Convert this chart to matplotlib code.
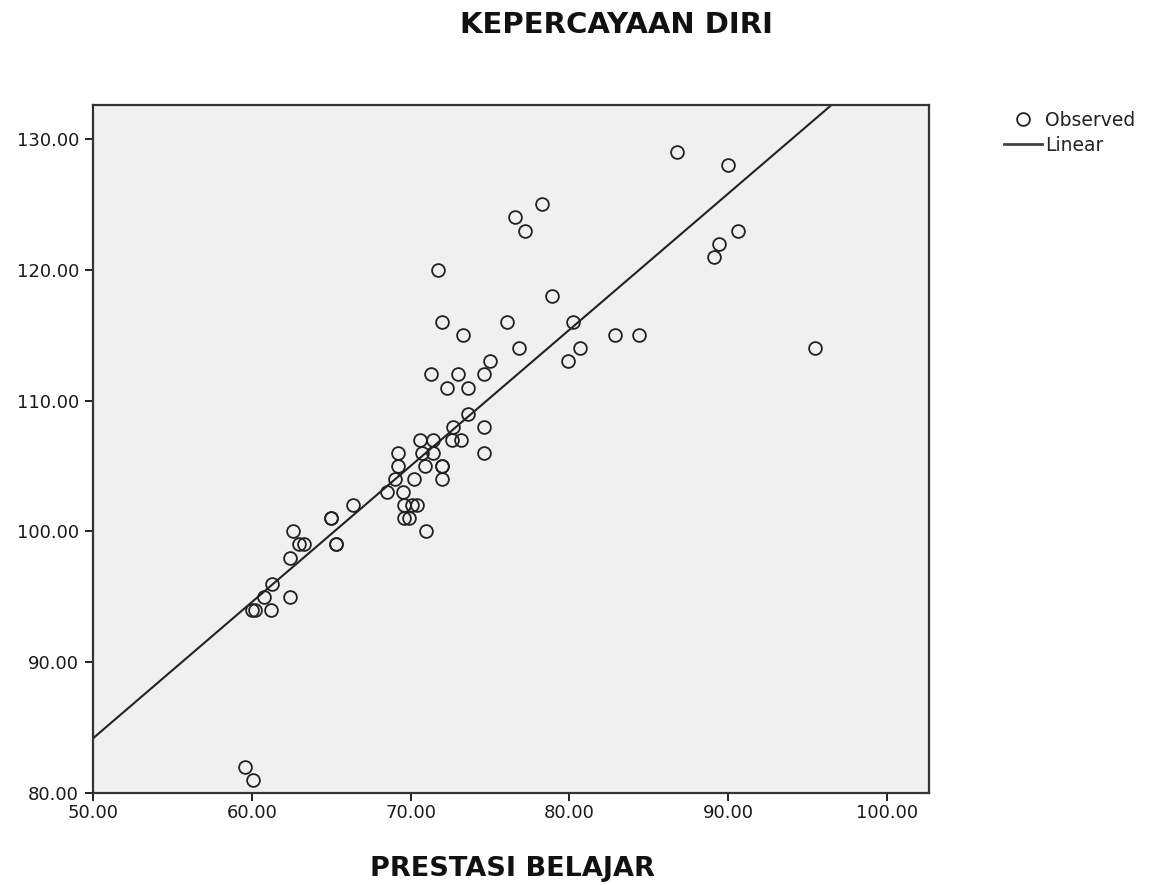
import numpy as np
import matplotlib
matplotlib.use("Agg")
import matplotlib.pyplot as plt
from matplotlib.lines import Line2D

plt.rcParams['font.family'] = ['DejaVu Sans']

title = "KEPERCAYAAN DIRI"
x_label = "PRESTASI BELAJAR"
legend_labels = ["Observed", "Linear"]

prestasi = [59.6, 60.1, 60.0, 60.2, 61.2, 60.8, 61.3, 62.4, 62.4, 62.6,
            63.0, 63.3, 65.0, 65.0, 65.3, 65.3, 66.4, 68.5, 69.0, 69.2,
            69.2, 69.5, 69.6, 69.9, 69.6, 70.1, 70.4, 70.2, 70.6, 70.7,
            70.9, 71.0, 71.4, 71.4, 72.0, 72.0, 72.0, 72.6, 73.2, 72.7,
            73.6, 74.6, 74.6, 71.3, 73.0, 74.6, 75.0, 72.3, 73.6, 72.0,
            73.3, 71.7, 76.1, 76.8, 76.6, 77.2, 78.3, 78.9, 80.2, 80.7,
            79.9, 82.9, 84.4, 86.8, 90.0, 90.6, 89.4, 89.1, 95.5]
kepercayaan = [82, 81, 94, 94, 94, 95, 96, 95, 98, 100,
               99, 99, 101, 101, 99, 99, 102, 103, 104, 105,
               106, 103, 101, 101, 102, 102, 102, 104, 107, 106,
               105, 100, 107, 106, 105, 105, 104, 107, 107, 108,
               109, 108, 106, 112, 112, 112, 113, 111, 111, 116,
               115, 120, 116, 114, 124, 123, 125, 118, 116, 114,
               113, 115, 115, 129, 128, 123, 122, 121, 114]

x_ticks = [50, 60, 70, 80, 90, 100]
y_ticks = [80, 90, 100, 110, 120, 130]

x = np.array(prestasi)
y = np.array(kepercayaan)

W, H = 1157, 885
fig = plt.figure(figsize=(W / 100, H / 100), dpi=100)
ax = fig.add_axes([93 / W, 1 - 793 / H, (929 - 93) / W, (793 - 105) / H])
ax.set_facecolor('#f0f0f0')

ax.plot(x, y, linestyle='none', marker='o', markersize=9.2,
        markerfacecolor='none', markeredgecolor='#222222', markeredgewidth=1.3,
        zorder=3)

slope, intercept = np.polyfit(x, y, 1)
xl = np.array([50, 102.65])
ax.plot(xl, intercept + slope * xl, color='#222222', linewidth=1.5, zorder=2)

ax.set_xlim(50, 102.65)
ax.set_ylim(80, 132.6)
ax.set_xticks(x_ticks)
ax.set_yticks(y_ticks)
ax.set_xticklabels([f"{v:.2f}" for v in x_ticks])
ax.set_yticklabels([f"{v:.2f}" for v in y_ticks])
ax.tick_params(axis='both', direction='out', length=6, width=1.4,
               color='#222222', labelsize=13, labelcolor='#1a1a1a')
ax.tick_params(axis='y', pad=4)
ax.tick_params(axis='x', pad=2)
for s in ax.spines.values():
    s.set_color('#333333')
    s.set_linewidth(1.6)

fig.text(616 / W, 1 - 25 / H, title, ha='center', va='center',
         fontsize=21, fontweight='bold', color='#111111')
fig.text(512 / W, 1 - 869 / H, x_label, ha='center', va='center',
         fontsize=19.5, fontweight='bold', color='#111111')

handles = [Line2D([], [], linestyle='none', marker='o', markersize=9.2,
                  markerfacecolor='none', markeredgecolor='#222222',
                  markeredgewidth=1.3),
           Line2D([], [], color='#444444', linewidth=2)]
leg = fig.legend(handles, legend_labels, loc='upper left',
                 bbox_to_anchor=(1004 / W, 1 - 111 / H), frameon=False,
                 fontsize=13.5, handlelength=2.0, handletextpad=0.2,
                 labelspacing=0.3, borderaxespad=0, borderpad=0)
for t in leg.get_texts():
    t.set_color('#222222')

fig.savefig('out.png', dpi=100)
